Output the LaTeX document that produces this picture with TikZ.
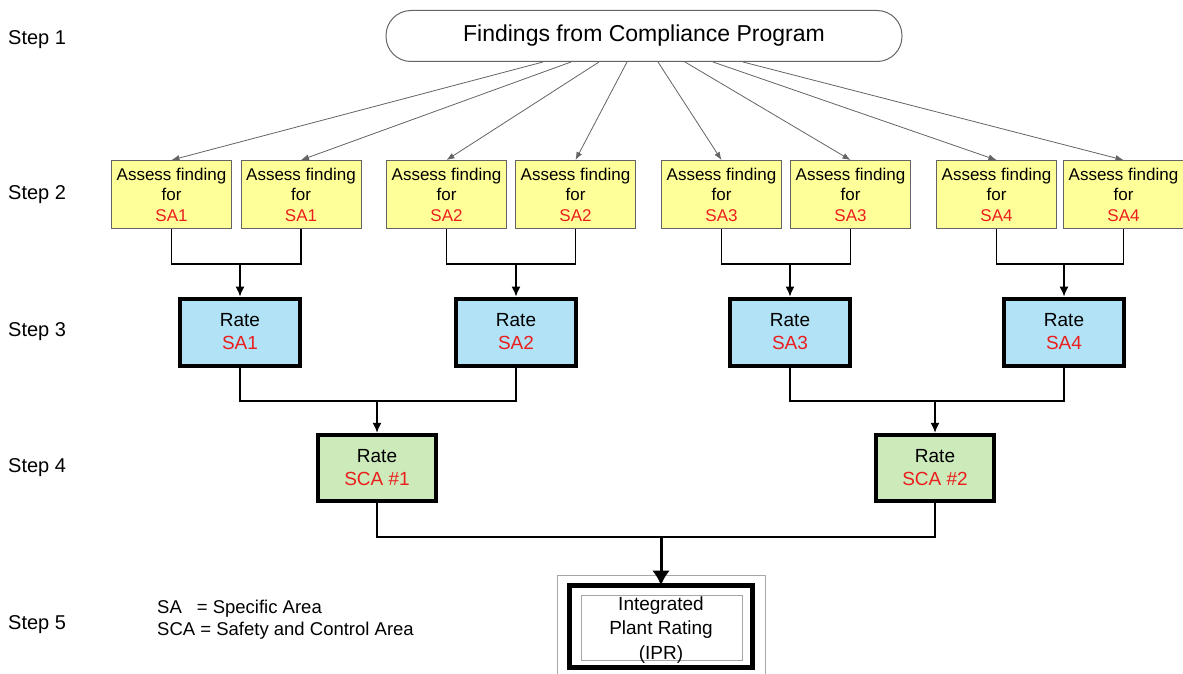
\documentclass[tikz,border=0pt]{standalone}
\usepackage{fontspec}
\setmainfont{Liberation Sans}
\usetikzlibrary{arrows.meta}
\definecolor{ybox}{RGB}{255,255,153}
\definecolor{bbox}{RGB}{178,226,245}
\definecolor{gbox}{RGB}{204,234,186}
\definecolor{txtred}{RGB}{235,30,30}
\definecolor{edgegray}{RGB}{100,100,100}
\begin{document}
\begin{tikzpicture}[x=1pt,y=-1pt,
  steplabel/.style={anchor=west,font=\fontsize{20}{24}\selectfont,inner sep=0pt},
  titlebox/.style={draw=edgegray,line width=1pt,rounded corners=25pt,minimum width=516pt,minimum height=51pt,font=\fontsize{23}{27}\selectfont,inner sep=0pt},
  assess/.style={draw=edgegray,line width=0.9pt,fill=ybox,minimum width=120pt,minimum height=68pt,align=center,inner sep=0pt,font=\fontsize{17}{20.5}\selectfont},
  ratebox/.style={draw=black,line width=4pt,fill=bbox,minimum width=120pt,minimum height=67pt,align=center,inner sep=0pt,font=\fontsize{19}{23}\selectfont},
  scabox/.style={draw=black,line width=4.5pt,fill=gbox,minimum width=118pt,minimum height=66pt,align=center,inner sep=0pt,font=\fontsize{19}{23}\selectfont},
  fan/.style={draw=edgegray,line width=0.8pt,-{Latex[length=8pt,width=6pt]}},
  link/.style={draw=black,line width=1.2pt},
  linkarrow/.style={draw=black,line width=1.3pt,-{Latex[length=10pt,width=9pt]}},
  bigarrow/.style={draw=black,line width=3pt,-{Latex[length=15pt,width=18pt]}}]
\fill[white] (0,0) rectangle (1183,674);
\useasboundingbox (0,0) rectangle (1183,674);

% step labels
\node[steplabel] (st1) at (8,40) {Step 1};
\node[steplabel] (st2) at (8,195) {Step 2};
\node[steplabel] (st3) at (8,332) {Step 3};
\node[steplabel] (st4) at (8,468) {Step 4};
\node[steplabel] (st5) at (8,625) {Step 5};

% top
\node[titlebox] (top) at (644,36) {Findings from Compliance Program};

% step 2
\foreach \n/\x/\s in {1/171.5/SA1,2/301/SA1,3/446.5/SA2,4/575.5/SA2,5/721.5/SA3,6/850.5/SA3,7/996.5/SA4,8/1123.5/SA4}{
  \node[assess] (a\n) at (\x,194.5) {Assess finding\\for\\\textcolor{txtred}{\s}};
}

% fan arrows
\foreach \n/\dx in {1/-101,2/-73,3/-45,4/-17,5/14,6/41,7/69,8/99}{
  \draw[fan] ([xshift=\dx pt]top.south) -- (a\n.north);
}

% step 3
\node[ratebox] (r1) at (240,332) {Rate\\\textcolor{txtred}{SA1}};
\node[ratebox] (r2) at (516,332) {Rate\\\textcolor{txtred}{SA2}};
\node[ratebox] (r3) at (790,332) {Rate\\\textcolor{txtred}{SA3}};
\node[ratebox] (r4) at (1064,332) {Rate\\\textcolor{txtred}{SA4}};

\coordinate (j1) at (240,264);
\coordinate (j2) at (516,264);
\coordinate (j3) at (790,264);
\coordinate (j4) at (1064,264);
\draw[link] (a1.south) |- (j1) -| (a2.south);
\draw[link] (a3.south) |- (j2) -| (a4.south);
\draw[link] (a5.south) |- (j3) -| (a6.south);
\draw[link] (a7.south) |- (j4) -| (a8.south);
\draw[linkarrow] (j1) -- (r1.north);
\draw[linkarrow] (j2) -- (r2.north);
\draw[linkarrow] (j3) -- (r3.north);
\draw[linkarrow] (j4) -- (r4.north);

% step 4
\node[scabox] (s1) at (377,468) {Rate\\\textcolor{txtred}{SCA \#1}};
\node[scabox] (s2) at (935,468) {Rate\\\textcolor{txtred}{SCA \#2}};
\coordinate (k1) at (377,401);
\coordinate (k2) at (935,401);
\draw[link] (r1.south) |- (k1) -| (r2.south);
\draw[link] (r3.south) |- (k2) -| (r4.south);
\draw[linkarrow] (k1) -- (s1.north);
\draw[linkarrow] (k2) -- (s2.north);

% step 5
\draw[draw=gray!70,line width=1pt] (557,680) -- (557,575) -- (765,575) -- (765,680);
\node[draw=black,line width=5pt,minimum width=183pt,minimum height=82pt,inner sep=0pt] (ipr) at (661,626.5) {};
\node[draw=gray!70,line width=0.9pt,minimum width=161pt,minimum height=65pt,inner sep=0pt] (iprin) at (661.5,627.5) {};
\node[align=center,inner sep=0pt,font=\fontsize{19}{24.5}\selectfont] (iprtext) at (661,630) {Integrated\\Plant Rating\\(IPR)};
\coordinate (m) at (661,537);
\draw[link] (s1.south) |- (m) -| (s2.south);
\draw[bigarrow] (m) -- ([yshift=-2.5pt]ipr.north);

% legend
\node[anchor=west,align=left,inner sep=0pt,font=\fontsize{18.5}{22}\selectfont] (legend) at (157,620) {SA\hspace{15pt}= Specific Area\\SCA = Safety and Control Area};
\end{tikzpicture}
\end{document}
